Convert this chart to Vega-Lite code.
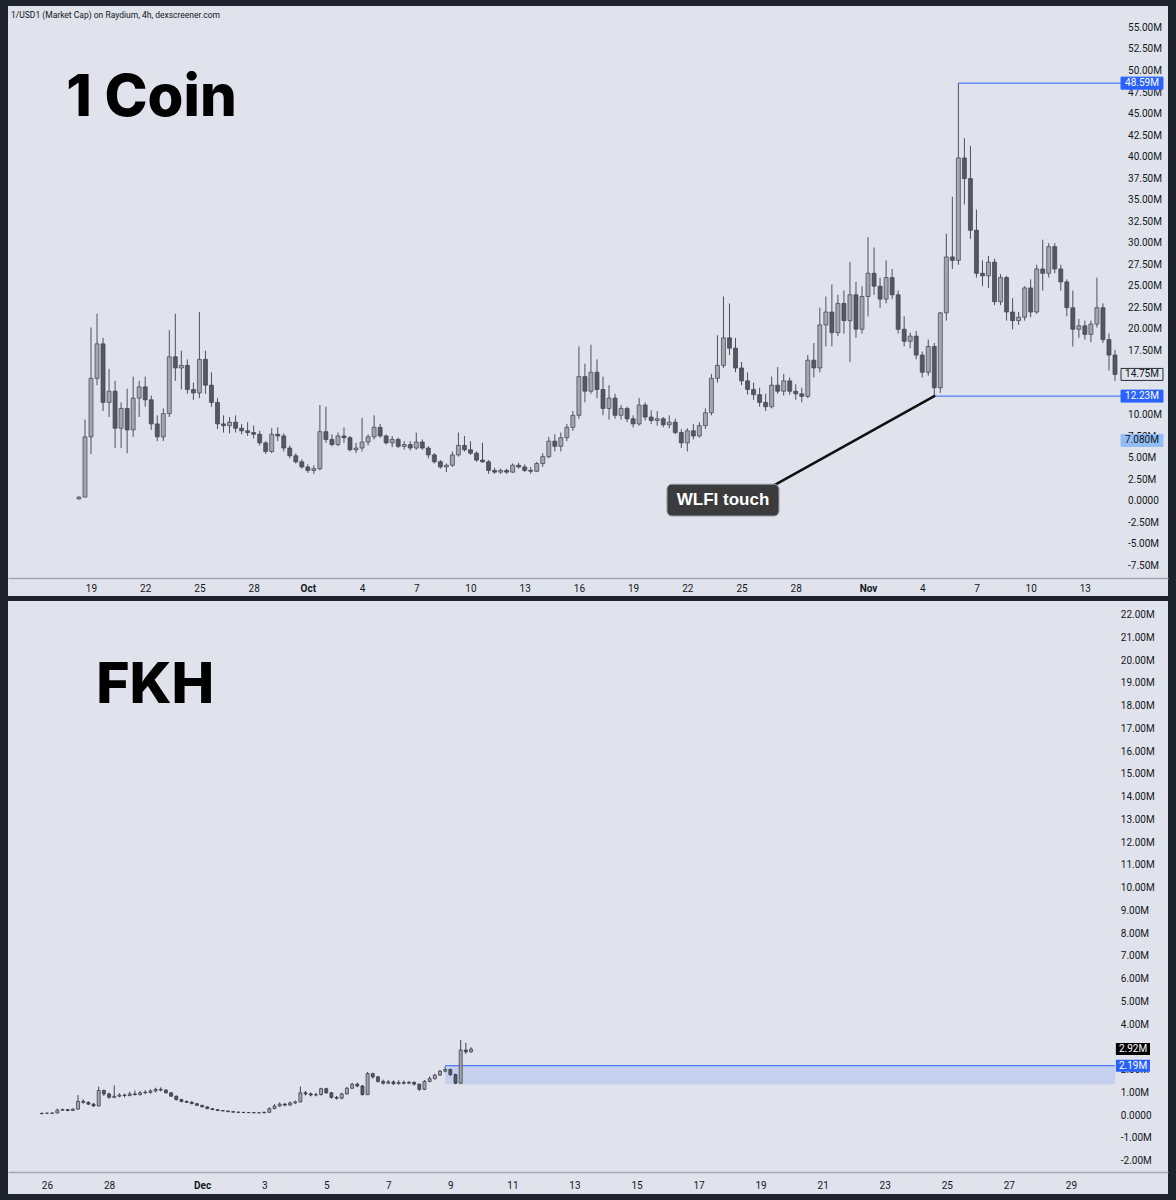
{
  "$schema": "https://vega.github.io/schema/vega-lite/v6.json",
  "background": "#1e222d",
  "padding": {"left": 8, "right": 8, "top": 6, "bottom": 6},
  "spacing": 5,
  "config": {
    "view": {"stroke": null, "fill": "#e0e3eb"},
    "font": "Roboto",
    "scale": {"continuousPadding": 0}
  },
  "datasets": {
    "top": [
      {"t":"2025-09-18T08:00Z","o":0.3,"h":0.6,"l":0.2,"c":0.5},
      {"t":"2025-09-18T16:00Z","o":0.5,"h":9.5,"l":0.5,"c":7.5},
      {"t":"2025-09-19T00:00Z","o":7.5,"h":20.2,"l":5.5,"c":14.3},
      {"t":"2025-09-19T08:00Z","o":14.3,"h":21.8,"l":13.5,"c":18.3},
      {"t":"2025-09-19T16:00Z","o":18.3,"h":19,"l":10.5,"c":11.5},
      {"t":"2025-09-20T00:00Z","o":11.5,"h":15.4,"l":9.8,"c":12.8},
      {"t":"2025-09-20T08:00Z","o":12.8,"h":14,"l":6.2,"c":8.5},
      {"t":"2025-09-20T16:00Z","o":8.5,"h":11.5,"l":6.2,"c":10.8},
      {"t":"2025-09-21T00:00Z","o":10.8,"h":13.1,"l":5.6,"c":8.3},
      {"t":"2025-09-21T08:00Z","o":8.3,"h":14.5,"l":7.5,"c":12},
      {"t":"2025-09-21T16:00Z","o":12,"h":14,"l":9.8,"c":13.3},
      {"t":"2025-09-22T00:00Z","o":13.3,"h":14.5,"l":11,"c":11.8},
      {"t":"2025-09-22T08:00Z","o":11.8,"h":12.3,"l":8.3,"c":9},
      {"t":"2025-09-22T16:00Z","o":9,"h":10,"l":7,"c":7.5},
      {"t":"2025-09-23T00:00Z","o":7.5,"h":10.8,"l":7,"c":10.2},
      {"t":"2025-09-23T08:00Z","o":10.2,"h":19.9,"l":9.8,"c":16.8},
      {"t":"2025-09-23T16:00Z","o":16.8,"h":21.8,"l":14,"c":15.5},
      {"t":"2025-09-24T00:00Z","o":15.5,"h":17.5,"l":13,"c":15.8},
      {"t":"2025-09-24T08:00Z","o":15.8,"h":16.5,"l":12.5,"c":13},
      {"t":"2025-09-24T16:00Z","o":13,"h":13.8,"l":11.8,"c":12.6},
      {"t":"2025-09-25T00:00Z","o":12.6,"h":22,"l":12,"c":16.5},
      {"t":"2025-09-25T08:00Z","o":16.5,"h":17.5,"l":12.5,"c":13.5},
      {"t":"2025-09-25T16:00Z","o":13.5,"h":15,"l":11,"c":11.5},
      {"t":"2025-09-26T00:00Z","o":11.5,"h":12,"l":8.4,"c":9},
      {"t":"2025-09-26T08:00Z","o":9,"h":10,"l":8,"c":8.8},
      {"t":"2025-09-26T16:00Z","o":8.8,"h":9.8,"l":7.9,"c":9.2},
      {"t":"2025-09-27T00:00Z","o":9.2,"h":10,"l":8,"c":8.5},
      {"t":"2025-09-27T08:00Z","o":8.5,"h":9,"l":7.8,"c":8.2},
      {"t":"2025-09-27T16:00Z","o":8.2,"h":9.2,"l":7.6,"c":8},
      {"t":"2025-09-28T00:00Z","o":8,"h":8.8,"l":7.3,"c":7.8},
      {"t":"2025-09-28T08:00Z","o":7.8,"h":8.2,"l":6.5,"c":6.8},
      {"t":"2025-09-28T16:00Z","o":6.8,"h":7,"l":5.5,"c":5.8},
      {"t":"2025-09-29T00:00Z","o":5.8,"h":8.5,"l":5.6,"c":7.8},
      {"t":"2025-09-29T08:00Z","o":7.8,"h":8.6,"l":7,"c":7.6},
      {"t":"2025-09-29T16:00Z","o":7.6,"h":7.9,"l":5.8,"c":6.2},
      {"t":"2025-09-30T00:00Z","o":6.2,"h":6.5,"l":5,"c":5.3},
      {"t":"2025-09-30T08:00Z","o":5.3,"h":5.6,"l":4.4,"c":4.6},
      {"t":"2025-09-30T16:00Z","o":4.6,"h":4.9,"l":3.8,"c":4},
      {"t":"2025-10-01T00:00Z","o":4,"h":4.3,"l":3.3,"c":3.6},
      {"t":"2025-10-01T08:00Z","o":3.6,"h":4.2,"l":3.2,"c":3.8},
      {"t":"2025-10-01T16:00Z","o":3.8,"h":11.2,"l":3.6,"c":8.1},
      {"t":"2025-10-02T00:00Z","o":8.1,"h":11,"l":6.8,"c":7.2},
      {"t":"2025-10-02T08:00Z","o":7.2,"h":7.8,"l":6.4,"c":6.6},
      {"t":"2025-10-02T16:00Z","o":6.6,"h":8,"l":6.4,"c":7.6},
      {"t":"2025-10-03T00:00Z","o":7.6,"h":8.6,"l":6.8,"c":7.4},
      {"t":"2025-10-03T08:00Z","o":7.4,"h":7.6,"l":5.8,"c":6},
      {"t":"2025-10-03T16:00Z","o":6,"h":6.8,"l":5.6,"c":6.2},
      {"t":"2025-10-04T00:00Z","o":6.2,"h":9.7,"l":5.8,"c":6.9},
      {"t":"2025-10-04T08:00Z","o":6.9,"h":7.8,"l":6.5,"c":7.5},
      {"t":"2025-10-04T16:00Z","o":7.5,"h":10,"l":7.2,"c":8.6},
      {"t":"2025-10-05T00:00Z","o":8.6,"h":9,"l":7.4,"c":7.6},
      {"t":"2025-10-05T08:00Z","o":7.6,"h":7.8,"l":6.6,"c":6.8},
      {"t":"2025-10-05T16:00Z","o":6.8,"h":7.6,"l":6.3,"c":7.2},
      {"t":"2025-10-06T00:00Z","o":7.2,"h":7.4,"l":6.2,"c":6.4},
      {"t":"2025-10-06T08:00Z","o":6.4,"h":7,"l":6,"c":6.6},
      {"t":"2025-10-06T16:00Z","o":6.6,"h":7,"l":5.9,"c":6.2},
      {"t":"2025-10-07T00:00Z","o":6.2,"h":8,"l":6,"c":6.9},
      {"t":"2025-10-07T08:00Z","o":6.9,"h":7.2,"l":6,"c":6.2},
      {"t":"2025-10-07T16:00Z","o":6.2,"h":6.4,"l":5,"c":5.4},
      {"t":"2025-10-08T00:00Z","o":5.4,"h":5.6,"l":4.4,"c":4.6},
      {"t":"2025-10-08T08:00Z","o":4.6,"h":4.8,"l":3.8,"c":4},
      {"t":"2025-10-08T16:00Z","o":4,"h":4.4,"l":3.4,"c":4.2},
      {"t":"2025-10-09T00:00Z","o":4.2,"h":5.8,"l":4,"c":5.4},
      {"t":"2025-10-09T08:00Z","o":5.4,"h":8,"l":5.2,"c":6.5},
      {"t":"2025-10-09T16:00Z","o":6.5,"h":7.6,"l":5.8,"c":6},
      {"t":"2025-10-10T00:00Z","o":6,"h":7,"l":5.4,"c":5.6},
      {"t":"2025-10-10T08:00Z","o":5.6,"h":5.8,"l":4.6,"c":4.8},
      {"t":"2025-10-10T16:00Z","o":4.8,"h":6.8,"l":4.5,"c":4.6},
      {"t":"2025-10-11T00:00Z","o":4.6,"h":4.8,"l":3.2,"c":3.6},
      {"t":"2025-10-11T08:00Z","o":3.6,"h":3.9,"l":3.2,"c":3.4},
      {"t":"2025-10-11T16:00Z","o":3.4,"h":3.8,"l":3.2,"c":3.6},
      {"t":"2025-10-12T00:00Z","o":3.6,"h":3.8,"l":3.2,"c":3.4},
      {"t":"2025-10-12T08:00Z","o":3.4,"h":4.4,"l":3.3,"c":4.2},
      {"t":"2025-10-12T16:00Z","o":4.2,"h":4.5,"l":3.8,"c":4},
      {"t":"2025-10-13T00:00Z","o":4,"h":4.3,"l":3.4,"c":3.6},
      {"t":"2025-10-13T08:00Z","o":3.6,"h":4,"l":3.2,"c":3.5},
      {"t":"2025-10-13T16:00Z","o":3.5,"h":4.6,"l":3.4,"c":4.4},
      {"t":"2025-10-14T00:00Z","o":4.4,"h":5.6,"l":4,"c":5.2},
      {"t":"2025-10-14T08:00Z","o":5.2,"h":7.5,"l":5,"c":7},
      {"t":"2025-10-14T16:00Z","o":7,"h":7.8,"l":5.8,"c":6.4},
      {"t":"2025-10-15T00:00Z","o":6.4,"h":8,"l":5.8,"c":7.4},
      {"t":"2025-10-15T08:00Z","o":7.4,"h":9,"l":7,"c":8.6},
      {"t":"2025-10-15T16:00Z","o":8.6,"h":10.5,"l":8.2,"c":10},
      {"t":"2025-10-16T00:00Z","o":10,"h":18,"l":9.6,"c":14.5},
      {"t":"2025-10-16T08:00Z","o":14.5,"h":16,"l":11.5,"c":12.8},
      {"t":"2025-10-16T16:00Z","o":12.8,"h":18.2,"l":12.5,"c":15},
      {"t":"2025-10-17T00:00Z","o":15,"h":16.5,"l":12,"c":13},
      {"t":"2025-10-17T08:00Z","o":13,"h":14.5,"l":10,"c":10.8},
      {"t":"2025-10-17T16:00Z","o":10.8,"h":13.5,"l":9.5,"c":12},
      {"t":"2025-10-18T00:00Z","o":12,"h":12.5,"l":9.6,"c":10},
      {"t":"2025-10-18T08:00Z","o":10,"h":11.2,"l":9.5,"c":10.8},
      {"t":"2025-10-18T16:00Z","o":10.8,"h":11,"l":9.2,"c":9.6},
      {"t":"2025-10-19T00:00Z","o":9.6,"h":10,"l":8.6,"c":9},
      {"t":"2025-10-19T08:00Z","o":9,"h":12,"l":8.8,"c":11.2},
      {"t":"2025-10-19T16:00Z","o":11.2,"h":11.5,"l":9.4,"c":9.8},
      {"t":"2025-10-20T00:00Z","o":9.8,"h":10.6,"l":9,"c":9.4},
      {"t":"2025-10-20T08:00Z","o":9.4,"h":10.5,"l":8.8,"c":9.6},
      {"t":"2025-10-20T16:00Z","o":9.6,"h":9.8,"l":8.6,"c":8.9},
      {"t":"2025-10-21T00:00Z","o":8.9,"h":10,"l":8.5,"c":9.2},
      {"t":"2025-10-21T08:00Z","o":9.2,"h":9.6,"l":7.8,"c":8},
      {"t":"2025-10-21T16:00Z","o":8,"h":8.4,"l":6.2,"c":6.8},
      {"t":"2025-10-22T00:00Z","o":6.8,"h":8.5,"l":5.8,"c":8.2},
      {"t":"2025-10-22T08:00Z","o":8.2,"h":9,"l":7.2,"c":7.6},
      {"t":"2025-10-22T16:00Z","o":7.6,"h":9.2,"l":7.4,"c":8.8},
      {"t":"2025-10-23T00:00Z","o":8.8,"h":10.8,"l":8.4,"c":10.3},
      {"t":"2025-10-23T08:00Z","o":10.3,"h":14.8,"l":10,"c":14.3},
      {"t":"2025-10-23T16:00Z","o":14.3,"h":19.3,"l":13.8,"c":15.8},
      {"t":"2025-10-24T00:00Z","o":15.8,"h":23.8,"l":15.5,"c":19},
      {"t":"2025-10-24T08:00Z","o":19,"h":23,"l":17,"c":17.8},
      {"t":"2025-10-24T16:00Z","o":17.8,"h":19,"l":15,"c":15.5},
      {"t":"2025-10-25T00:00Z","o":15.5,"h":16.2,"l":13.5,"c":14},
      {"t":"2025-10-25T08:00Z","o":14,"h":15,"l":12.4,"c":13},
      {"t":"2025-10-25T16:00Z","o":13,"h":13.8,"l":11.8,"c":12.4},
      {"t":"2025-10-26T00:00Z","o":12.4,"h":13.2,"l":11,"c":11.5},
      {"t":"2025-10-26T08:00Z","o":11.5,"h":12.5,"l":10.5,"c":11},
      {"t":"2025-10-26T16:00Z","o":11,"h":14.5,"l":10.8,"c":13.5},
      {"t":"2025-10-27T00:00Z","o":13.5,"h":15.6,"l":12.5,"c":12.8},
      {"t":"2025-10-27T08:00Z","o":12.8,"h":14.8,"l":12.3,"c":14},
      {"t":"2025-10-27T16:00Z","o":14,"h":14.4,"l":12.4,"c":12.8},
      {"t":"2025-10-28T00:00Z","o":12.8,"h":13.6,"l":11.8,"c":12.5},
      {"t":"2025-10-28T08:00Z","o":12.5,"h":13.2,"l":11.5,"c":12.2},
      {"t":"2025-10-28T16:00Z","o":12.2,"h":17,"l":12,"c":16.4},
      {"t":"2025-10-29T00:00Z","o":16.4,"h":18.4,"l":14.4,"c":15.5},
      {"t":"2025-10-29T08:00Z","o":15.5,"h":22.5,"l":15,"c":20.5},
      {"t":"2025-10-29T16:00Z","o":20.5,"h":23.8,"l":18,"c":22},
      {"t":"2025-10-30T00:00Z","o":22,"h":25.2,"l":18,"c":19.6},
      {"t":"2025-10-30T08:00Z","o":19.6,"h":24,"l":19.2,"c":23},
      {"t":"2025-10-30T16:00Z","o":23,"h":24.5,"l":19.5,"c":21},
      {"t":"2025-10-31T00:00Z","o":21,"h":27.8,"l":16.2,"c":24},
      {"t":"2025-10-31T08:00Z","o":24,"h":25.5,"l":19,"c":20},
      {"t":"2025-10-31T16:00Z","o":20,"h":25,"l":19.5,"c":23.8},
      {"t":"2025-11-01T00:00Z","o":23.8,"h":30.7,"l":21.5,"c":26.5},
      {"t":"2025-11-01T08:00Z","o":26.5,"h":29.5,"l":24,"c":25},
      {"t":"2025-11-01T16:00Z","o":25,"h":26,"l":22.5,"c":23.5},
      {"t":"2025-11-02T00:00Z","o":23.5,"h":28,"l":23,"c":26},
      {"t":"2025-11-02T08:00Z","o":26,"h":27,"l":23.5,"c":24},
      {"t":"2025-11-02T16:00Z","o":24,"h":24.5,"l":19.5,"c":20},
      {"t":"2025-11-03T00:00Z","o":20,"h":21.5,"l":18,"c":18.6},
      {"t":"2025-11-03T08:00Z","o":18.6,"h":19.6,"l":17.8,"c":19.2},
      {"t":"2025-11-03T16:00Z","o":19.2,"h":19.8,"l":16.5,"c":17},
      {"t":"2025-11-04T00:00Z","o":17,"h":17.4,"l":14.4,"c":15},
      {"t":"2025-11-04T08:00Z","o":15,"h":18.8,"l":14.6,"c":18},
      {"t":"2025-11-04T16:00Z","o":18,"h":18.4,"l":12.23,"c":13.2},
      {"t":"2025-11-05T00:00Z","o":13.2,"h":22,"l":12.6,"c":21.9},
      {"t":"2025-11-05T08:00Z","o":21.9,"h":31.1,"l":21,"c":28.4},
      {"t":"2025-11-05T16:00Z","o":28.4,"h":35.4,"l":27,"c":28},
      {"t":"2025-11-06T00:00Z","o":28,"h":48.59,"l":27.5,"c":39.9},
      {"t":"2025-11-06T08:00Z","o":39.9,"h":42.2,"l":34.5,"c":37.5},
      {"t":"2025-11-06T16:00Z","o":37.5,"h":41.3,"l":30.5,"c":31.5},
      {"t":"2025-11-07T00:00Z","o":31.5,"h":33.9,"l":26,"c":26.5},
      {"t":"2025-11-07T08:00Z","o":26.5,"h":28,"l":25,"c":26.2},
      {"t":"2025-11-07T16:00Z","o":26.2,"h":28.5,"l":24.8,"c":27.8},
      {"t":"2025-11-08T00:00Z","o":27.8,"h":28.2,"l":22.8,"c":23.2},
      {"t":"2025-11-08T08:00Z","o":23.2,"h":26.4,"l":22.8,"c":26},
      {"t":"2025-11-08T16:00Z","o":26,"h":26.2,"l":21,"c":22},
      {"t":"2025-11-09T00:00Z","o":22,"h":23.6,"l":20,"c":21},
      {"t":"2025-11-09T08:00Z","o":21,"h":22,"l":20.5,"c":21.4},
      {"t":"2025-11-09T16:00Z","o":21.4,"h":25,"l":21,"c":24.8},
      {"t":"2025-11-10T00:00Z","o":24.8,"h":25.8,"l":21.4,"c":22},
      {"t":"2025-11-10T08:00Z","o":22,"h":27.5,"l":21.8,"c":27},
      {"t":"2025-11-10T16:00Z","o":27,"h":30.4,"l":24.5,"c":26.5},
      {"t":"2025-11-11T00:00Z","o":26.5,"h":30,"l":26,"c":29.6},
      {"t":"2025-11-11T08:00Z","o":29.6,"h":30,"l":26.5,"c":27},
      {"t":"2025-11-11T16:00Z","o":27,"h":27.5,"l":24.5,"c":25.5},
      {"t":"2025-11-12T00:00Z","o":25.5,"h":25.8,"l":21.5,"c":22.5},
      {"t":"2025-11-12T08:00Z","o":22.5,"h":24.5,"l":18,"c":20},
      {"t":"2025-11-12T16:00Z","o":20,"h":21.2,"l":19,"c":20.4},
      {"t":"2025-11-13T00:00Z","o":20.4,"h":21,"l":18.8,"c":19.4},
      {"t":"2025-11-13T08:00Z","o":19.4,"h":21,"l":18.5,"c":20.6},
      {"t":"2025-11-13T16:00Z","o":20.6,"h":26,"l":20.2,"c":22.5},
      {"t":"2025-11-14T00:00Z","o":22.5,"h":23,"l":18.4,"c":18.8},
      {"t":"2025-11-14T08:00Z","o":18.8,"h":19.5,"l":15.2,"c":17},
      {"t":"2025-11-14T16:00Z","o":17,"h":17.6,"l":14,"c":14.75}
    ],
    "bot": [
      {"t":"2025-11-25T20:00Z","o":0.08,"h":0.12,"l":0.06,"c":0.10},
      {"t":"2025-11-26T00:00Z","o":0.10,"h":0.13,"l":0.08,"c":0.10},
      {"t":"2025-11-26T04:00Z","o":0.10,"h":0.14,"l":0.08,"c":0.11},
      {"t":"2025-11-26T08:00Z","o":0.11,"h":0.30,"l":0.10,"c":0.24},
      {"t":"2025-11-26T12:00Z","o":0.24,"h":0.30,"l":0.20,"c":0.26},
      {"t":"2025-11-26T16:00Z","o":0.26,"h":0.29,"l":0.19,"c":0.22},
      {"t":"2025-11-26T20:00Z","o":0.22,"h":0.32,"l":0.20,"c":0.28},
      {"t":"2025-11-27T00:00Z","o":0.28,"h":0.90,"l":0.26,"c":0.62},
      {"t":"2025-11-27T04:00Z","o":0.62,"h":0.72,"l":0.52,"c":0.58},
      {"t":"2025-11-27T08:00Z","o":0.58,"h":0.62,"l":0.46,"c":0.50},
      {"t":"2025-11-27T12:00Z","o":0.50,"h":0.55,"l":0.38,"c":0.42},
      {"t":"2025-11-27T16:00Z","o":0.42,"h":1.27,"l":0.40,"c":1.10},
      {"t":"2025-11-27T20:00Z","o":1.10,"h":1.14,"l":0.86,"c":0.95},
      {"t":"2025-11-28T00:00Z","o":0.95,"h":1.00,"l":0.74,"c":0.80},
      {"t":"2025-11-28T04:00Z","o":0.80,"h":1.32,"l":0.76,"c":0.85},
      {"t":"2025-11-28T08:00Z","o":0.85,"h":0.98,"l":0.80,"c":0.90},
      {"t":"2025-11-28T12:00Z","o":0.90,"h":0.96,"l":0.80,"c":0.88},
      {"t":"2025-11-28T16:00Z","o":0.88,"h":1.05,"l":0.84,"c":0.95},
      {"t":"2025-11-28T20:00Z","o":0.95,"h":1.10,"l":0.88,"c":0.92},
      {"t":"2025-11-29T00:00Z","o":0.92,"h":1.08,"l":0.88,"c":1.00},
      {"t":"2025-11-29T04:00Z","o":1.00,"h":1.12,"l":0.94,"c":1.02},
      {"t":"2025-11-29T08:00Z","o":1.02,"h":1.15,"l":0.96,"c":1.08},
      {"t":"2025-11-29T12:00Z","o":1.08,"h":1.22,"l":1.02,"c":1.15},
      {"t":"2025-11-29T16:00Z","o":1.15,"h":1.24,"l":1.06,"c":1.12},
      {"t":"2025-11-29T20:00Z","o":1.12,"h":1.15,"l":0.96,"c":1.00},
      {"t":"2025-11-30T00:00Z","o":1.00,"h":1.02,"l":0.82,"c":0.85},
      {"t":"2025-11-30T04:00Z","o":0.85,"h":0.88,"l":0.66,"c":0.70},
      {"t":"2025-11-30T08:00Z","o":0.70,"h":0.74,"l":0.58,"c":0.62},
      {"t":"2025-11-30T12:00Z","o":0.62,"h":0.66,"l":0.55,"c":0.58},
      {"t":"2025-11-30T16:00Z","o":0.58,"h":0.64,"l":0.50,"c":0.52},
      {"t":"2025-11-30T20:00Z","o":0.52,"h":0.55,"l":0.42,"c":0.45},
      {"t":"2025-12-01T00:00Z","o":0.45,"h":0.47,"l":0.36,"c":0.38},
      {"t":"2025-12-01T04:00Z","o":0.38,"h":0.40,"l":0.28,"c":0.30},
      {"t":"2025-12-01T08:00Z","o":0.30,"h":0.32,"l":0.24,"c":0.26},
      {"t":"2025-12-01T12:00Z","o":0.26,"h":0.28,"l":0.20,"c":0.22},
      {"t":"2025-12-01T16:00Z","o":0.22,"h":0.24,"l":0.18,"c":0.20},
      {"t":"2025-12-01T20:00Z","o":0.20,"h":0.22,"l":0.15,"c":0.17},
      {"t":"2025-12-02T00:00Z","o":0.17,"h":0.19,"l":0.13,"c":0.15},
      {"t":"2025-12-02T04:00Z","o":0.15,"h":0.17,"l":0.12,"c":0.14},
      {"t":"2025-12-02T08:00Z","o":0.14,"h":0.16,"l":0.11,"c":0.13},
      {"t":"2025-12-02T12:00Z","o":0.13,"h":0.15,"l":0.11,"c":0.13},
      {"t":"2025-12-02T16:00Z","o":0.13,"h":0.14,"l":0.10,"c":0.12},
      {"t":"2025-12-02T20:00Z","o":0.12,"h":0.14,"l":0.10,"c":0.12},
      {"t":"2025-12-03T00:00Z","o":0.12,"h":0.17,"l":0.10,"c":0.14},
      {"t":"2025-12-03T04:00Z","o":0.14,"h":0.36,"l":0.13,"c":0.30},
      {"t":"2025-12-03T08:00Z","o":0.30,"h":0.50,"l":0.28,"c":0.42},
      {"t":"2025-12-03T12:00Z","o":0.42,"h":0.58,"l":0.38,"c":0.50},
      {"t":"2025-12-03T16:00Z","o":0.50,"h":0.55,"l":0.40,"c":0.46},
      {"t":"2025-12-03T20:00Z","o":0.46,"h":0.62,"l":0.42,"c":0.55},
      {"t":"2025-12-04T00:00Z","o":0.55,"h":0.66,"l":0.50,"c":0.60},
      {"t":"2025-12-04T04:00Z","o":0.60,"h":1.27,"l":0.58,"c":1.00},
      {"t":"2025-12-04T08:00Z","o":1.00,"h":1.08,"l":0.88,"c":0.95},
      {"t":"2025-12-04T12:00Z","o":0.95,"h":1.02,"l":0.84,"c":0.90},
      {"t":"2025-12-04T16:00Z","o":0.90,"h":1.00,"l":0.84,"c":0.92},
      {"t":"2025-12-04T20:00Z","o":0.92,"h":1.22,"l":0.88,"c":1.18},
      {"t":"2025-12-05T00:00Z","o":1.18,"h":1.22,"l":0.95,"c":1.00},
      {"t":"2025-12-05T04:00Z","o":1.00,"h":1.04,"l":0.74,"c":0.80},
      {"t":"2025-12-05T08:00Z","o":0.80,"h":0.86,"l":0.70,"c":0.76},
      {"t":"2025-12-05T12:00Z","o":0.76,"h":1.00,"l":0.72,"c":0.95},
      {"t":"2025-12-05T16:00Z","o":0.95,"h":1.26,"l":0.92,"c":1.20},
      {"t":"2025-12-05T20:00Z","o":1.20,"h":1.44,"l":1.16,"c":1.38},
      {"t":"2025-12-06T00:00Z","o":1.38,"h":1.45,"l":1.24,"c":1.30},
      {"t":"2025-12-06T04:00Z","o":1.30,"h":1.34,"l":0.88,"c":0.92},
      {"t":"2025-12-06T08:00Z","o":0.92,"h":1.92,"l":0.90,"c":1.84},
      {"t":"2025-12-06T12:00Z","o":1.84,"h":1.88,"l":1.62,"c":1.70},
      {"t":"2025-12-06T16:00Z","o":1.70,"h":1.74,"l":1.44,"c":1.50},
      {"t":"2025-12-06T20:00Z","o":1.50,"h":1.58,"l":1.36,"c":1.42},
      {"t":"2025-12-07T00:00Z","o":1.42,"h":1.56,"l":1.38,"c":1.48},
      {"t":"2025-12-07T04:00Z","o":1.48,"h":1.54,"l":1.34,"c":1.40},
      {"t":"2025-12-07T08:00Z","o":1.40,"h":1.55,"l":1.36,"c":1.45},
      {"t":"2025-12-07T12:00Z","o":1.45,"h":1.54,"l":1.36,"c":1.42},
      {"t":"2025-12-07T16:00Z","o":1.42,"h":1.52,"l":1.38,"c":1.46},
      {"t":"2025-12-07T20:00Z","o":1.46,"h":1.50,"l":1.32,"c":1.38},
      {"t":"2025-12-08T00:00Z","o":1.38,"h":1.40,"l":1.08,"c":1.15},
      {"t":"2025-12-08T04:00Z","o":1.15,"h":1.56,"l":1.12,"c":1.50},
      {"t":"2025-12-08T08:00Z","o":1.50,"h":1.72,"l":1.46,"c":1.62},
      {"t":"2025-12-08T12:00Z","o":1.62,"h":1.84,"l":1.58,"c":1.78},
      {"t":"2025-12-08T16:00Z","o":1.78,"h":2.00,"l":1.74,"c":1.95},
      {"t":"2025-12-08T20:00Z","o":1.95,"h":2.15,"l":1.90,"c":2.02},
      {"t":"2025-12-09T00:00Z","o":2.02,"h":2.06,"l":1.74,"c":1.80},
      {"t":"2025-12-09T04:00Z","o":1.80,"h":1.84,"l":1.38,"c":1.42},
      {"t":"2025-12-09T08:00Z","o":1.42,"h":3.32,"l":1.40,"c":2.88},
      {"t":"2025-12-09T12:00Z","o":2.88,"h":3.20,"l":2.70,"c":2.80},
      {"t":"2025-12-09T16:00Z","o":2.80,"h":3.00,"l":2.76,"c":2.92}
    ],
    "ytop": [
      {"v":-7.5,"label":"-7.50M"},{"v":-5,"label":"-5.00M"},{"v":-2.5,"label":"-2.50M"},{"v":0,"label":"0.0000"},
      {"v":2.5,"label":"2.50M"},{"v":5,"label":"5.00M"},{"v":7.5,"label":"7.50M"},{"v":10,"label":"10.00M"},
      {"v":17.5,"label":"17.50M"},{"v":20,"label":"20.00M"},
      {"v":22.5,"label":"22.50M"},{"v":25,"label":"25.00M"},{"v":27.5,"label":"27.50M"},{"v":30,"label":"30.00M"},
      {"v":32.5,"label":"32.50M"},{"v":35,"label":"35.00M"},{"v":37.5,"label":"37.50M"},{"v":40,"label":"40.00M"},
      {"v":42.5,"label":"42.50M"},{"v":45,"label":"45.00M"},{"v":47.5,"label":"47.50M"},{"v":50,"label":"50.00M"},
      {"v":52.5,"label":"52.50M"},{"v":55,"label":"55.00M"}
    ],
    "ybot": [
      {"v":-2,"label":"-2.00M"},{"v":-1,"label":"-1.00M"},{"v":0,"label":"0.0000"},{"v":1,"label":"1.00M"},
      {"v":2,"label":"2.00M"},{"v":4,"label":"4.00M"},{"v":5,"label":"5.00M"},
      {"v":6,"label":"6.00M"},{"v":7,"label":"7.00M"},{"v":8,"label":"8.00M"},{"v":9,"label":"9.00M"},
      {"v":10,"label":"10.00M"},{"v":11,"label":"11.00M"},{"v":12,"label":"12.00M"},{"v":13,"label":"13.00M"},
      {"v":14,"label":"14.00M"},{"v":15,"label":"15.00M"},{"v":16,"label":"16.00M"},{"v":17,"label":"17.00M"},
      {"v":18,"label":"18.00M"},{"v":19,"label":"19.00M"},{"v":20,"label":"20.00M"},{"v":21,"label":"21.00M"},
      {"v":22,"label":"22.00M"}
    ]
  },
  "vconcat": [
    {
      "width": 1160,
      "height": 590,
      "layer": [
        {
          "data": {"name": "top"},
          "mark": {"type": "rule", "color": "#4d505a", "strokeWidth": 1},
          "encoding": {
            "x": {
              "field": "t", "type": "temporal",
              "scale": {"type": "utc", "nice": false, "padding": 0,
                "domain": [{"year":2025,"month":9,"date":14,"hours":9,"minutes":46,"utc":true},{"year":2025,"month":11,"date":17,"hours":14,"minutes":24,"utc":true}]},
              "axis": {
                "orient": "bottom", "offset": -18, "title": null, "grid": false, "ticks": false,
                "domain": true, "domainColor": "#a3a6af", "domainWidth": 1.5,
                "labelPadding": 5, "labelFontSize": 10, "labelFont": "Roboto", "labelColor": "#131722",
                "labelOverlap": false, "labelFlush": false,
                "values": [
                  {"year":2025,"month":9,"date":19,"utc":true},{"year":2025,"month":9,"date":22,"utc":true},
                  {"year":2025,"month":9,"date":25,"utc":true},{"year":2025,"month":9,"date":28,"utc":true},
                  {"year":2025,"month":10,"date":1,"utc":true},{"year":2025,"month":10,"date":4,"utc":true},
                  {"year":2025,"month":10,"date":7,"utc":true},{"year":2025,"month":10,"date":10,"utc":true},
                  {"year":2025,"month":10,"date":13,"utc":true},{"year":2025,"month":10,"date":16,"utc":true},
                  {"year":2025,"month":10,"date":19,"utc":true},{"year":2025,"month":10,"date":22,"utc":true},
                  {"year":2025,"month":10,"date":25,"utc":true},{"year":2025,"month":10,"date":28,"utc":true},
                  {"year":2025,"month":11,"date":1,"utc":true},{"year":2025,"month":11,"date":4,"utc":true},
                  {"year":2025,"month":11,"date":7,"utc":true},{"year":2025,"month":11,"date":10,"utc":true},
                  {"year":2025,"month":11,"date":13,"utc":true}
                ],
                "labelExpr": "utcdate(datum.value) == 1 ? utcFormat(datum.value, '%b') : utcFormat(datum.value, '%-d')",
                "labelFontWeight": {"condition": {"test": "utcdate(datum.value) == 1", "value": "bold"}, "value": "normal"}
              }
            },
            "y": {
              "field": "l", "type": "quantitative",
              "scale": {"domain": [-10.99, 57.55], "nice": false, "zero": false, "padding": 0},
              "axis": null
            },
            "y2": {"field": "h"}
          }
        },
        {
          "data": {"name": "top"},
          "mark": {"type": "bar", "width": 4, "stroke": "#3f424b", "strokeWidth": 0.7},
          "encoding": {
            "x": {"field": "t", "type": "temporal"},
            "y": {"field": "o", "type": "quantitative"},
            "y2": {"field": "c"},
            "fill": {"condition": {"test": "datum.c >= datum.o", "value": "#a3a6b0"}, "value": "#555862"}
          }
        },
        {
          "data": {"name": "ytop"},
          "mark": {"type": "text", "align": "left", "baseline": "middle", "fontSize": 10, "font": "Roboto", "color": "#131722"},
          "encoding": {
            "x": {"datum": {"year":2025,"month":11,"date":15,"hours":9,"minutes":21,"utc":true}, "type": "temporal"},
            "y": {"field": "v", "type": "quantitative"},
            "text": {"field": "label"}
          }
        },
        {
          "data": {"values": [
            {"t": "2025-11-06T00:00Z", "t2": "2025-11-15T00:00Z", "v": 48.59},
            {"t": "2025-11-04T16:00Z", "t2": "2025-11-15T00:00Z", "v": 12.23}
          ]},
          "mark": {"type": "rule", "color": "#2962ff", "strokeWidth": 1},
          "encoding": {
            "x": {"field": "t", "type": "temporal"},
            "x2": {"field": "t2"},
            "y": {"field": "v", "type": "quantitative"}
          }
        },
        {
          "data": {"values": [
            {"t": "2025-10-26T07:10Z", "v": 1.27, "t2": "2025-11-04T16:00Z", "v2": 12.23}
          ]},
          "mark": {"type": "rule", "color": "#111111", "strokeWidth": 2.5, "strokeCap": "round"},
          "encoding": {
            "x": {"field": "t", "type": "temporal"},
            "y": {"field": "v", "type": "quantitative"},
            "x2": {"field": "t2"},
            "y2": {"field": "v2"}
          }
        },
        {
          "data": {"values": [
            {"t": "2025-10-20T21:00Z", "t2": "2025-10-27T01:45Z", "v": -1.7, "v2": 2.0}
          ]},
          "mark": {"type": "rect", "fill": "#3b3b3e", "stroke": "#9a9ca3", "strokeWidth": 1, "cornerRadius": 5},
          "encoding": {
            "x": {"field": "t", "type": "temporal"},
            "x2": {"field": "t2"},
            "y": {"field": "v", "type": "quantitative"},
            "y2": {"field": "v2"}
          }
        },
        {
          "data": {"values": [
            {"t": "2025-10-23T23:25Z", "v": 0.16, "label": "WLFI touch"}
          ]},
          "mark": {"type": "text", "align": "center", "baseline": "middle", "font": "Liberation Sans", "fontSize": 17, "fontWeight": "bold", "color": "#ffffff"},
          "encoding": {
            "x": {"field": "t", "type": "temporal"},
            "y": {"field": "v", "type": "quantitative"},
            "text": {"field": "label"}
          }
        },
        {
          "data": {"values": [
            {"v": 48.59, "label": "48.59M", "kind": "blue"},
            {"v": 12.23, "label": "12.23M", "kind": "blue"},
            {"v": 14.75, "label": "14.75M", "kind": "last"},
            {"v": 7.08, "label": "7.080M", "kind": "light"}
          ]},
          "layer": [
            {
              "mark": {"type": "bar", "orient": "horizontal", "height": 12, "strokeWidth": 1},
              "encoding": {
                "x": {"datum": {"year":2025,"month":11,"date":15,"utc":true}, "type": "temporal"},
                "x2": {"datum": {"year":2025,"month":11,"date":17,"hours":7,"minutes":45,"utc":true}},
                "y": {"field": "v", "type": "quantitative"},
                "fill": {"condition": [{"test": "datum.kind == 'blue'", "value": "#2962ff"}, {"test": "datum.kind == 'light'", "value": "#91bdf6"}], "value": "#e0e3eb"},
                "stroke": {"condition": [{"test": "datum.kind == 'blue'", "value": "#2962ff"}, {"test": "datum.kind == 'light'", "value": "#91bdf6"}], "value": "#2a2e39"}
              }
            },
            {
              "mark": {"type": "text", "align": "left", "baseline": "middle", "dx": 4, "fontSize": 10, "font": "Roboto"},
              "encoding": {
                "x": {"datum": {"year":2025,"month":11,"date":15,"utc":true}, "type": "temporal"},
                "y": {"field": "v", "type": "quantitative"},
                "text": {"field": "label"},
                "color": {"condition": {"test": "datum.kind == 'blue'", "value": "#ffffff"}, "value": "#131722"}
              }
            }
          ]
        },
        {
          "data": {"values": [
            {"t": "2025-09-17T15:00Z", "v": 44.77, "label": "1 Coin"}
          ]},
          "mark": {"type": "text", "align": "left", "baseline": "alphabetic", "font": "Inter", "fontSize": 58, "fontWeight": 800, "color": "#000000"},
          "encoding": {
            "x": {"field": "t", "type": "temporal"},
            "y": {"field": "v", "type": "quantitative"},
            "text": {"field": "label"}
          }
        },
        {
          "data": {"values": [
            {"t": "2025-09-14T13:45Z", "v": 56.5, "label": "1/USD1 (Market Cap) on Raydium, 4h, dexscreener.com"}
          ]},
          "mark": {"type": "text", "align": "left", "baseline": "middle", "font": "Roboto", "fontSize": 8.5, "color": "#131722"},
          "encoding": {
            "x": {"field": "t", "type": "temporal"},
            "y": {"field": "v", "type": "quantitative"},
            "text": {"field": "label"}
          }
        }
      ]
    },
    {
      "width": 1160,
      "height": 593,
      "layer": [
        {
          "data": {"values": [
            {"t": "2025-12-08T19:55Z", "t2": "2025-12-30T10:05Z", "v": 1.38, "v2": 2.19}
          ]},
          "mark": {"type": "rect", "fill": "#2962ff", "opacity": 0.15},
          "encoding": {
            "x": {
              "field": "t", "type": "temporal",
              "scale": {"type": "utc", "nice": false, "padding": 0,
                "domain": [{"year":2025,"month":11,"date":24,"hours":17,"minutes":50,"utc":true},{"year":2026,"month":1,"date":1,"hours":3,"minutes":7,"utc":true}]},
              "axis": {
                "orient": "bottom", "offset": -22, "title": null, "grid": false, "ticks": false,
                "domain": true, "domainColor": "#a3a6af", "domainWidth": 1.5,
                "labelPadding": 8, "labelFontSize": 10, "labelFont": "Roboto", "labelColor": "#131722",
                "labelOverlap": false, "labelFlush": false,
                "values": [
                  {"year":2025,"month":11,"date":26,"utc":true},{"year":2025,"month":11,"date":28,"utc":true},
                  {"year":2025,"month":12,"date":1,"utc":true},{"year":2025,"month":12,"date":3,"utc":true},
                  {"year":2025,"month":12,"date":5,"utc":true},{"year":2025,"month":12,"date":7,"utc":true},
                  {"year":2025,"month":12,"date":9,"utc":true},{"year":2025,"month":12,"date":11,"utc":true},
                  {"year":2025,"month":12,"date":13,"utc":true},{"year":2025,"month":12,"date":15,"utc":true},
                  {"year":2025,"month":12,"date":17,"utc":true},{"year":2025,"month":12,"date":19,"utc":true},
                  {"year":2025,"month":12,"date":21,"utc":true},{"year":2025,"month":12,"date":23,"utc":true},
                  {"year":2025,"month":12,"date":25,"utc":true},{"year":2025,"month":12,"date":27,"utc":true},
                  {"year":2025,"month":12,"date":29,"utc":true}
                ],
                "labelExpr": "utcdate(datum.value) == 1 ? utcFormat(datum.value, '%b') : utcFormat(datum.value, '%-d')",
                "labelFontWeight": {"condition": {"test": "utcdate(datum.value) == 1", "value": "bold"}, "value": "normal"}
              }
            },
            "x2": {"field": "t2"},
            "y": {
              "field": "v", "type": "quantitative",
              "scale": {"domain": [-3.45, 22.62], "nice": false, "zero": false, "padding": 0},
              "axis": null
            },
            "y2": {"field": "v2"}
          }
        },
        {
          "data": {"values": [
            {"t": "2025-12-08T19:55Z", "t2": "2025-12-30T10:05Z", "v": 2.19}
          ]},
          "mark": {"type": "rule", "color": "#2962ff", "strokeWidth": 1},
          "encoding": {
            "x": {"field": "t", "type": "temporal"},
            "x2": {"field": "t2"},
            "y": {"field": "v", "type": "quantitative"}
          }
        },
        {
          "data": {"name": "bot"},
          "mark": {"type": "rule", "color": "#3f424b", "strokeWidth": 1},
          "encoding": {
            "x": {"field": "t", "type": "temporal"},
            "y": {"field": "l", "type": "quantitative"},
            "y2": {"field": "h"}
          }
        },
        {
          "data": {"name": "bot"},
          "mark": {"type": "bar", "width": 3, "stroke": "#2f323a", "strokeWidth": 0.7},
          "encoding": {
            "x": {"field": "t", "type": "temporal"},
            "y": {"field": "o", "type": "quantitative"},
            "y2": {"field": "c"},
            "fill": {"condition": {"test": "datum.c >= datum.o", "value": "#a3a6b0"}, "value": "#555862"}
          }
        },
        {
          "data": {"name": "ybot"},
          "mark": {"type": "text", "align": "left", "baseline": "middle", "fontSize": 10, "font": "Roboto", "color": "#131722"},
          "encoding": {
            "x": {"datum": {"year":2025,"month":12,"date":30,"hours":14,"minutes":38,"utc":true}, "type": "temporal"},
            "y": {"field": "v", "type": "quantitative"},
            "text": {"field": "label"}
          }
        },
        {
          "data": {"values": [
            {"v": 2.92, "label": "2.92M", "kind": "black"},
            {"v": 2.19, "label": "2.19M", "kind": "blue"}
          ]},
          "layer": [
            {
              "mark": {"type": "bar", "orient": "horizontal", "height": 12},
              "encoding": {
                "x": {"datum": {"year":2025,"month":12,"date":30,"hours":10,"minutes":48,"utc":true}, "type": "temporal"},
                "x2": {"datum": {"year":2025,"month":12,"date":31,"hours":13,"minutes":12,"utc":true}},
                "y": {"field": "v", "type": "quantitative"},
                "fill": {"condition": {"test": "datum.kind == 'blue'", "value": "#2962ff"}, "value": "#000000"}
              }
            },
            {
              "mark": {"type": "text", "align": "left", "baseline": "middle", "dx": 3, "fontSize": 10, "font": "Roboto", "color": "#ffffff"},
              "encoding": {
                "x": {"datum": {"year":2025,"month":12,"date":30,"hours":10,"minutes":48,"utc":true}, "type": "temporal"},
                "y": {"field": "v", "type": "quantitative"},
                "text": {"field": "label"}
              }
            }
          ]
        },
        {
          "data": {"values": [
            {"t": "2025-11-27T14:00Z", "v": 18.13, "label": "FKH"}
          ]},
          "mark": {"type": "text", "align": "left", "baseline": "alphabetic", "font": "Inter", "fontSize": 57, "fontWeight": 800, "color": "#000000"},
          "encoding": {
            "x": {"field": "t", "type": "temporal"},
            "y": {"field": "v", "type": "quantitative"},
            "text": {"field": "label"}
          }
        }
      ]
    }
  ]
}
